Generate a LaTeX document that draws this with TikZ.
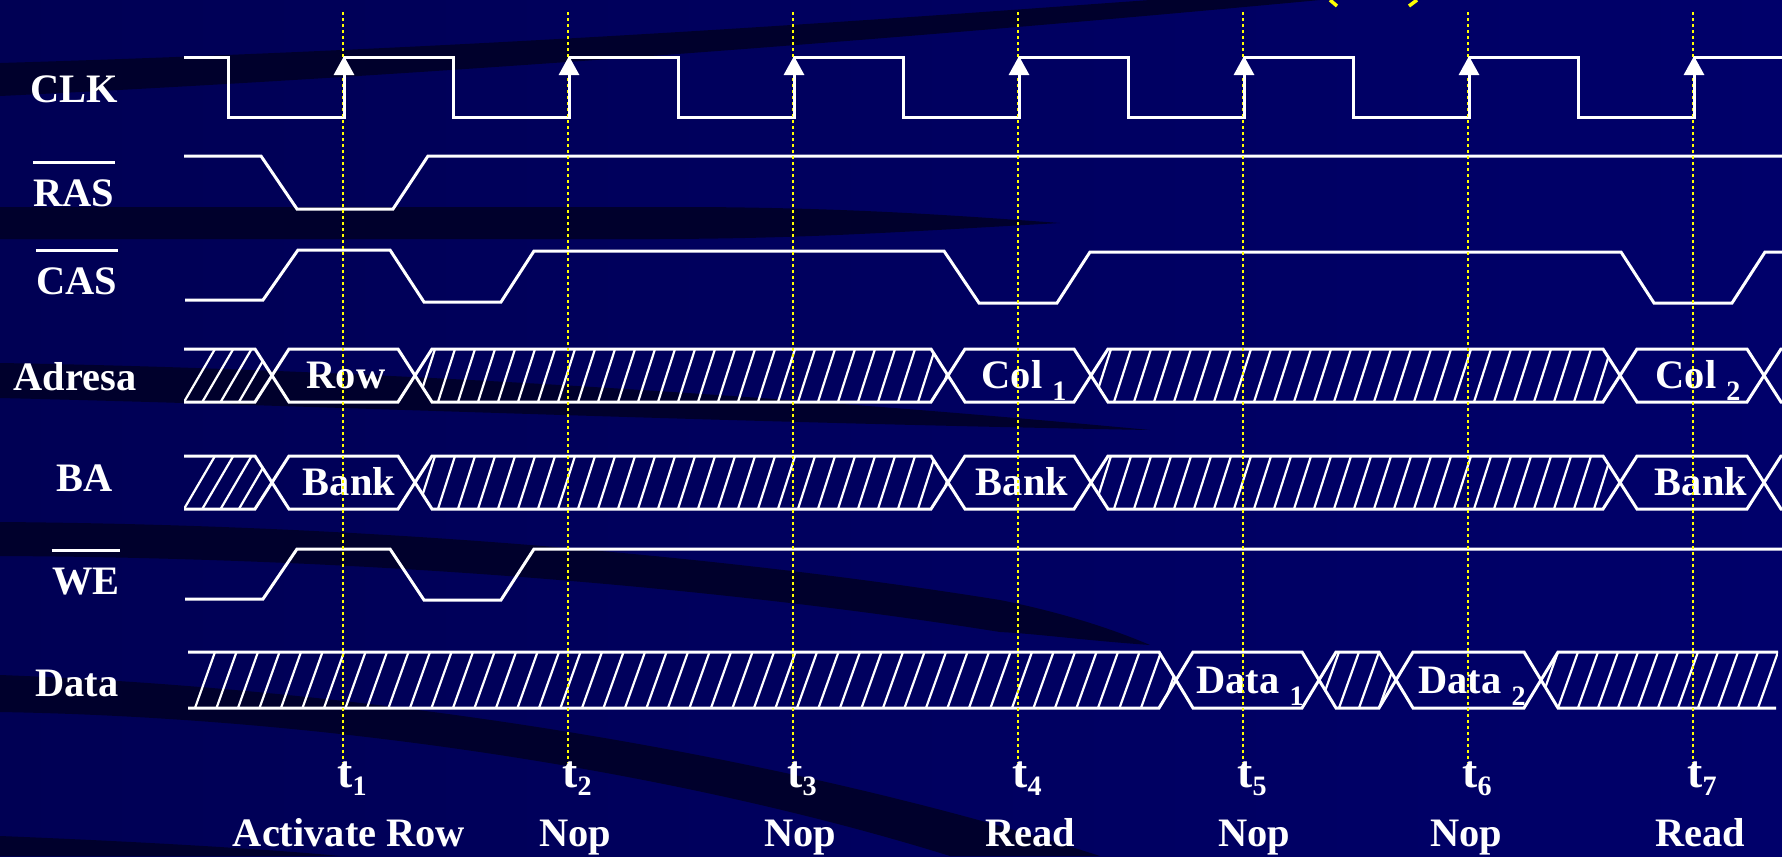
\documentclass[tikz,border=0pt]{standalone}
\usepackage{fontspec}
\setmainfont{Liberation Serif}
\usetikzlibrary{arrows.meta}
\definecolor{slideL}{HTML}{000054}
\definecolor{slideR}{HTML}{00006A}
\definecolor{swoosh}{HTML}{00002C}
\definecolor{marker}{HTML}{FFFF00}
\newcommand{\lowidx}[2][1.2mm]{\raisebox{-#1}{\fontsize{8}{8}\selectfont #2}}
% diagonal hatch lines, lower ends from #1 to #2 (used inside a clip)
\newcommand{\hatchlines}[6]{%
  \pgfmathtruncatemacro{\hn}{((#2)-(#1))/(#5)+1}%
  \foreach \hi in {0,...,\hn}
    \draw[hatch] ({(#1)+\hi*(#5)},#4) -- ({(#1)+\hi*(#5)+(#6)},#3);}

\begin{document}
\begin{tikzpicture}[
  x=0.1mm, y=-0.1mm,
  sig/.style={white, line width=0.3mm},
  hatch/.style={white, line width=0.22mm},
  tmark/.style={marker, line width=0.2mm, dash pattern=on 0.3mm off 0.3mm},
  rise/.style={white, line width=0.3mm, -{Triangle[length=1.9mm, width=2mm]}},
  overbar/.style={white, line width=0.3mm},
  lbl/.style={text=white, inner sep=0pt, font=\fontsize{11.5}{12}\selectfont\bfseries}
]
  \clip (0,0) rectangle (1782,856);
  \shade[left color=slideL, right color=slideR] (0,0) rectangle (1782,856);

  % background swooshes
  \fill[swoosh] (0,63) .. controls (500,48) and (900,18) .. (1150,0) -- (1320,0)
    .. controls (1000,30) and (500,72) .. (0,96) -- cycle;
  \fill[swoosh] (0,207) -- (700,207) .. controls (850,208) and (950,215) .. (1060,223)
    .. controls (900,232) and (800,239) .. (650,239) -- (0,239) -- cycle;
  \fill[swoosh] (0,363) .. controls (300,368) and (700,388) .. (1150,430)
    .. controls (700,422) and (300,405) .. (0,398) -- cycle;
  \fill[swoosh] (0,522) .. controls (400,525) and (750,560) .. (1000,600)
    .. controls (1060,612) and (1110,628) .. (1150,645)
    .. controls (1080,640) and (1040,634) .. (1000,632)
    .. controls (750,592) and (400,558) .. (0,556) -- cycle;
  \fill[swoosh] (0,675) .. controls (400,690) and (800,760) .. (1100,856) -- (950,856)
    .. controls (700,778) and (350,718) .. (0,712) -- cycle;
  \fill[swoosh] (0,836) .. controls (150,842) and (280,850) .. (340,856) -- (0,856) -- cycle;
  \draw[marker, line width=0.35mm] (1330,0) -- (1337,6);
  \draw[marker, line width=0.35mm] (1417,0) -- (1409,6);

  % signal names
  \foreach \nm/\cx/\by/\txt in {clk/74/102/CLK, ras/74/206/RAS, cas/77/294/CAS,
      adr/75/390/Adresa, ba/85/491/BA, we/86/594/WE, data/77/696/Data}
    \node[lbl, anchor=base] (\nm) at (\cx,\by) {\txt};
  \foreach \nm in {ras,cas,we}
    \draw[overbar] ([yshift=1.6mm]\nm.north west) -- ([yshift=1.6mm]\nm.north east);

  % CLK
  \draw[sig] (184,57) -- (228,57) -- (228,117)
    \foreach \k in {1,...,6} { -- ({344+225*(\k-1)},117) -- ({344+225*(\k-1)},57)
      -- ({453+225*(\k-1)},57) -- ({453+225*(\k-1)},117) }
    -- (1694,117) -- (1694,57) -- (1782,57);

  % RAS, CAS, WE
  \draw[sig] (184,156) -- (261,156) -- (297,209) -- (393,209) -- (428,156) -- (1782,156);
  \draw[sig] (185,300) -- (263,300) -- (298,250) -- (390,250) -- (424,302) -- (501,302)
    -- (534,251) -- (944,251) -- (979,303) -- (1057,303) -- (1090,252) -- (1621,252)
    -- (1654,303) -- (1732,303) -- (1765,252) -- (1782,252);
  \draw[sig] (185,599) -- (263,599) -- (297,549) -- (390,549) -- (424,600) -- (501,600)
    -- (534,549) -- (1782,549);

  % Adresa / BA: leading hatched part
  \foreach \yt/\yb in {349/402, 456/509}
  {
    \draw[sig] (184,\yt) -- (255,\yt) -- (272,{(\yt+\yb)/2}) -- (255,\yb) -- (184,\yb);
    \begin{scope}
      \clip (184,\yt) -- (255,\yt) -- (272,{(\yt+\yb)/2}) -- (255,\yb) -- (184,\yb) -- cycle;
      \hatchlines{184}{272}{\yt}{\yb}{18.3}{31}
    \end{scope}
  }

  % hatched cells
  \foreach \a/\b/\yt/\yb/\s/\r in {415/948/349/402/20/17, 1091/1620/349/402/20/17,
      415/948/456/509/20/17, 1091/1620/456/509/20/17, 1319/1396/652/708/20/20}
  {
    \draw[sig] (\a,{(\yt+\yb)/2}) -- (\a+17,\yt) -- (\b-17,\yt) -- (\b,{(\yt+\yb)/2})
      -- (\b-17,\yb) -- (\a+17,\yb) -- cycle;
    \begin{scope}
      \clip (\a,{(\yt+\yb)/2}) -- (\a+17,\yt) -- (\b-17,\yt) -- (\b,{(\yt+\yb)/2})
        -- (\b-17,\yb) -- (\a+17,\yb) -- cycle;
      \hatchlines{\a-\r}{\b}{\yt}{\yb}{\s}{\r}
    \end{scope}
  }

  % labelled cells
  \foreach \nm/\a/\b/\yt/\yb/\cx/\txt in {row/272/415/349/402/346/Row,
      colA/948/1091/349/402/1024/{Col \lowidx{1}}, colB/1620/1764/349/402/1698/{Col \lowidx{2}},
      bankA/272/415/456/509/349/Bank, bankB/948/1091/456/509/1022/Bank,
      bankC/1620/1764/456/509/1701/Bank, dataA/1176/1319/652/708/1250/{Data \lowidx{1}},
      dataB/1396/1541/652/708/1472/{Data \lowidx{2}}, endA/1764/1990/349/402/1900/{},
      endB/1764/1990/456/509/1900/{}}
  {
    \draw[sig] (\a,{(\yt+\yb)/2}) -- (\a+17,\yt) -- (\b-17,\yt) -- (\b,{(\yt+\yb)/2})
      -- (\b-17,\yb) -- (\a+17,\yb) -- cycle;
    \node[lbl, anchor=base] (\nm) at (\cx,{(\yt+\yb)/2+13}) {\txt};
  }

  % Data: hatched before and after the two words
  \draw[sig] (188,652) -- (1159,652) -- (1176,680) -- (1159,708) -- (188,708);
  \begin{scope}
    \clip (188,652) -- (1159,652) -- (1176,680) -- (1159,708) -- (188,708) -- cycle;
    \hatchlines{195}{1176}{652}{708}{21.5}{20}
  \end{scope}
  \draw[sig] (1778,652) -- (1558,652) -- (1541,680) -- (1558,708) -- (1776,708);
  \begin{scope}
    \clip (1778,652) -- (1558,652) -- (1541,680) -- (1558,708) -- (1776,708) -- cycle;
    \hatchlines{1518}{1776}{652}{708}{20}{20}
  \end{scope}

  % instants and commands
  \foreach \k/\cx/\cmd in {1/349/Activate Row, 2/575/Nop, 3/800/Nop, 4/1030/Read,
      5/1254/Nop, 6/1466/Nop, 7/1700/Read}
  {
    \draw[tmark] ({344+225*(\k-1)-1},12) -- ({344+225*(\k-1)-1},763);
    \draw[rise] ({344+225*(\k-1)},117) -- ({344+225*(\k-1)},56);
    \node[lbl, anchor=base, font=\fontsize{13}{13}\selectfont\bfseries] (t\k)
      at ({344+225*(\k-1)+8},787) {t\lowidx[0.8mm]{\k}};
    \node[lbl, anchor=base] (op\k) at (\cx,846) {\cmd};
  }
\end{tikzpicture}
\end{document}
